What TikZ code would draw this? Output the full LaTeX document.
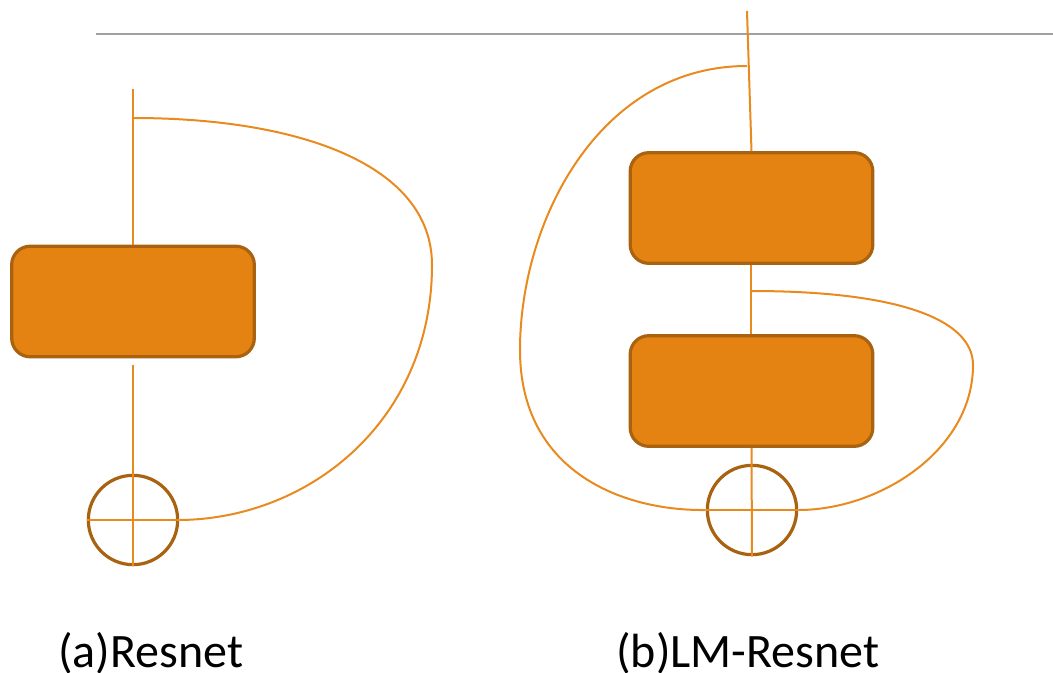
\documentclass[tikz,border=0pt]{standalone}
\usepackage{fontspec}
\setmainfont{Carlito}
\definecolor{blockfill}{RGB}{228,131,18}
\definecolor{blockedge}{RGB}{168,98,16}
\definecolor{wire}{RGB}{232,138,30}
\definecolor{rule}{RGB}{160,160,160}
\tikzset{
  block/.style={draw=blockedge, line width=2.4pt, fill=blockfill, rounded corners=14pt,
    minimum width=182pt, minimum height=83pt, inner sep=0pt},
  adder/.style={draw=blockedge, line width=2.4pt, circle, minimum size=67pt, inner sep=0pt},
  link/.style={draw=wire, line width=1.5pt},
  caption/.style={font=\fontsize{36}{40}\selectfont, anchor=base west, inner sep=0pt}
}
\begin{document}
\begin{tikzpicture}[x=0.75pt,y=-0.75pt]
\useasboundingbox (0,0) rectangle (1053,672);
% horizontal rule
\coordinate (ruleL) at (96,34);
\coordinate (ruleR) at (1053,34);
\draw[rule, line width=1pt] (ruleL) -- (ruleR);

% ---- (a) Resnet ----
\coordinate (aIn) at (133,89);
\coordinate (aSplit) at (133,118);
\node[block] (aBox) at (133,301.5) {};
\coordinate (aOut) at (133,365);
\node[adder] (aSum) at (133,520) {};
\draw[link] (aIn) -- (aBox.north);
\draw[link] (aOut) -- (aSum.south);
\draw[link] (aSum.west) -- (aSum.east);
\draw[link] (aSplit) .. controls (300,118) and (432,165) .. (432,265)
  .. controls (432,420) and (310,519) .. (aSum.east);

% ---- (b) LM-Resnet ----
\coordinate (bIn) at (747,11);
\coordinate (bSplit) at (747,66);
\node[block] (bBoxA) at (751.5,208) {};
\coordinate (bA) at (751,265);
\coordinate (bMid) at (751,291);
\coordinate (bB) at (751,334);
\node[block] (bBoxB) at (751.5,391) {};
\node[adder] (bSum) at (752,510) {};
\draw[link] (bIn) -- (bBoxA.north);
\draw[link] (bA) -- (bB);
\draw[link] (bBoxB.south) -- (bSum.south);
\draw[link] (bSum.west) -- (bSum.east);
\draw[link] (bSplit) .. controls (600,66) and (520,220) .. (520,350)
  .. controls (520,470) and (620,511) .. (bSum.west);
\draw[link] (bMid) .. controls (900,291) and (973,320) .. (973,365)
  .. controls (973,450) and (880,510) .. (bSum.east);

% captions
\node[caption] (capA) at (58,667) {(a)Resnet};
\node[caption] (capB) at (616,667) {(b)LM-Resnet};
\end{tikzpicture}
\end{document}
